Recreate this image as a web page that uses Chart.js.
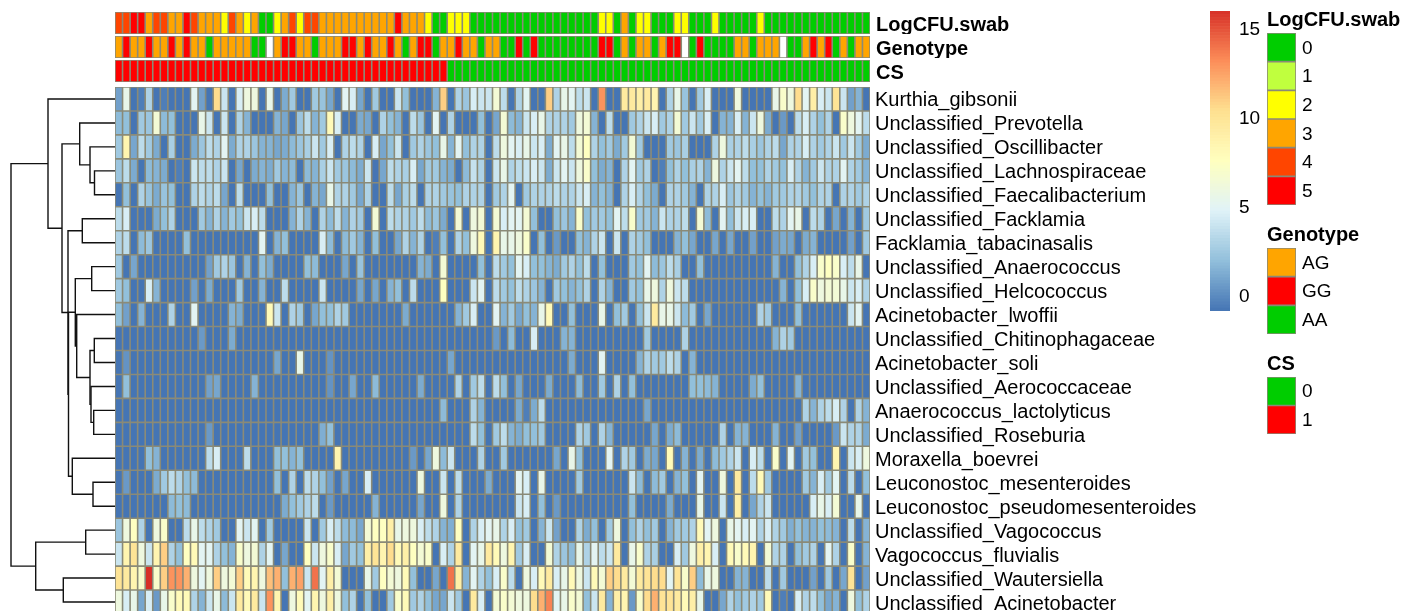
<!DOCTYPE html>
<html>
<head>
<meta charset="utf-8">
<title>Heatmap</title>
<script src="https://cdn.jsdelivr.net/npm/chart.js@4"></script>
<style>
    html, body { margin: 0; padding: 0; width: 1418px; height: 611px; overflow: hidden; background: #fff; }
    canvas { position: absolute; }
</style>
</head>
<body>
<canvas id="dendrogram" width="115" height="527" style="left:0;top:87px"></canvas>
<canvas id="stripLog" width="1095" height="22" style="left:115px;top:12px"></canvas>
<canvas id="stripGenotype" width="1095" height="22" style="left:115px;top:36px"></canvas>
<canvas id="stripCS" width="1095" height="22" style="left:115px;top:60px"></canvas>
<canvas id="heatmap" width="1095" height="527" style="left:115px;top:87px"></canvas>
<canvas id="colorBar" width="60" height="300" style="left:1210px;top:11px"></canvas>
<canvas id="legendLog" width="151" height="199" style="left:1267px;top:6px"></canvas>
<canvas id="legendGenotype" width="151" height="113" style="left:1267px;top:221px"></canvas>
<canvas id="legendCS" width="151" height="84" style="left:1267px;top:350px"></canvas>
<script>
const rowLabels = ['Kurthia_gibsonii', 'Unclassified_Prevotella', 'Unclassified_Oscillibacter',
    'Unclassified_Lachnospiraceae', 'Unclassified_Faecalibacterium', 'Unclassified_Facklamia',
    'Facklamia_tabacinasalis', 'Unclassified_Anaerococcus', 'Unclassified_Helcococcus',
    'Acinetobacter_lwoffii', 'Unclassified_Chitinophagaceae', 'Acinetobacter_soli',
    'Unclassified_Aerococcaceae', 'Anaerococcus_lactolyticus', 'Unclassified_Roseburia',
    'Moraxella_boevrei', 'Leuconostoc_mesenteroides', 'Leuconostoc_pseudomesenteroides',
    'Unclassified_Vagococcus', 'Vagococcus_fluvialis', 'Unclassified_Wautersiella',
    'Unclassified_Acinetobacter'];

// Annotation strips, one value per sample
const logCfuSwab = [4,4,5,5,3,4,4,3,3,5, 4,3,3,3,2,4,3,2,3,0, 0,2,3,4,2,4,4,3,3,3,
    3,3,3,3,3,3,3,5,3,3, 3,2,0,0,2,2,2,0,0,0, 0,0,0,0,0,0,0,0,0,0,
    0,0,0,0,2,2,0,3,0,2, 2,0,0,0,2,2,0,0,0,2, 0,0,0,0,0,2,0,0,0,0,
    0,0,0,0,0,0,0,0,0,0];
const genotype = ['AG','GG','AG','AG','GG','AG','AG','GG','AG','GG',
    'AG','AG','AA','AG','AG','AG','AG','AG','AA','AA',
    '','AG','GG','GG','AG','AG','AA','AG','AG','AG',
    'GG','GG','AG','GG','AG','AG','GG','AG','AA','AG',
    'GG','GG','AA','AG','AG','GG','AG','AG','AA','AG',
    'AG','AA','AA','GG','AA','GG','AA','AA','AA','AA',
    'AA','AA','AA','AA','GG','GG','AA','AG','AA','AG',
    'AG','AA','AG','GG','GG','','AA','GG','AA','AA',
    'AA','AA','AG','AG','AA','AG','AG','AG','','AA',
    'AA','AG','GG','AG','GG','AA','AG','AA','AG','AG'];
const cs = [1,1,1,1,1,1,1,1,1,1, 1,1,1,1,1,1,1,1,1,1, 1,1,1,1,1,1,1,1,1,1,
    1,1,1,1,1,1,1,1,1,1, 1,1,1,1,0,0,0,0,0,0, 0,0,0,0,0,0,0,0,0,0,
    0,0,0,0,0,0,0,0,0,0, 0,0,0,0,0,0,0,0,0,0, 0,0,0,0,0,0,0,0,0,0,
    0,0,0,0,0,0,0,0,0,0];

// Heatmap rows, top to bottom.
const kurthiaGibsonii = [.8,5.5,-1,-.5,3,-1,-.5,-1,-1,-1, 5,.8,-1,10.5,4,-1,4.5,6,6,-1,
    5.5,-1,1.2,2.5,-1,-1,2.5,2.2,1,-1, 5,4.5,1,-1,2.5,-1,-1,4,2,-1,
    -1,-1,1.5,11,-1,3,2.3,4.5,4,4, 6.5,3.5,-1,3,5,-1,-1,11,3,5.5,
    5,3.5,4,-1,13,-1,-1,9.5,9.5,9, 9.5,8.5,-1,3,5.5,2.2,-1,2.5,4.5,-1,
    -1,-1,6,-1,-1,-1,-1,5.5,7,6, 10.5,5,9,4.5,4,10,4,.8,1.5,-1];
const prevotella = [1.8,2,-1,2.5,2.3,6.5,1.8,2,-1,-1, -1,5.5,4,-1,4,-1,3,1.5,-1,-1,
    -1,1.5,1,-1,2.3,3.5,1.5,2.5,8,4.5, -1,-1,1.2,1,-1,3,2,1.5,-1,3.5,
    2.3,-1,5,-1,3,-1,-1,-1,2,-1, 1,6.5,1.8,1.5,4,4.5,5.5,3,3,3,
    2.5,6,6.5,1.5,-1,3.5,-1,-1,2.5,3, 4,4.5,2.5,3,6.5,2.5,4,2.5,4.5,-1,
    1.5,1.5,4.5,1.5,4,6,1.2,-1,.5,-1, 3.5,4.5,3,2,3,-1,7,6,5,3.5];
const oscillibacter = [2.5,8.5,1,3.5,2.5,1.2,-1,2.8,-1,-1, 1.2,2.3,3.5,3,5,1.2,3,3,2.3,1.5,
    1.5,1,1.2,1.8,2.3,2.8,4,2.5,4.5,-1, 3,3.5,3,-1,4.5,1,2,4,-1,2.5,
    3,2.3,2,5.5,1.5,5,2,3,3,-1, 3.5,6,5,4.5,5.5,4,4.5,1.2,5,5.5,
    3.5,6.5,7.5,3,2,2.5,1.2,2.5,6.5,2.5, -1,-1,-1,2.5,2.3,2.8,-1,-1,-1,3,
    6,2.8,3,3.5,2.8,2.3,3,3.5,1,3, 3,4.5,3,2.5,3,4,2.5,4,2.5,1.2];
const lachnospiraceae = [2.3,3.5,1.2,-1,1.8,1.5,1.2,-1,-.5,-1, 4,3.5,3.5,3,4,-1,1,-1,1.2,1.5,
    1.2,2.5,1.5,1.8,-1,1.8,1.5,2.8,4,2.5, 2.3,1.8,1.2,4,-1,1,3.5,3,2.8,4.5,
    1,2.5,2.5,1.5,1.2,-1,1.8,3.8,3,-1, 4,5.5,3,3.5,4,4.5,4,1.2,4,5,
    4,6,7,2,1.2,1.5,-1,3,5,2.5, 3,-1,-.5,2,3,2,2.8,3,1.5,6,
    3,4,5,3.5,2,2,3,2.5,2,4.5, 3,1.5,2.5,4,3,3,5,3,2.5,1.5];
const faecalibacterium = [-1,2,-1,3,2.2,1.2,2.2,2,-1,-1, 3,3.5,3,3.5,1,-1,3.5,-1,-1,-1,
    2,-1,-1,1.5,2.3,-1,1.5,1,5.5,3, 3,2.5,1,3,-1,-1,3.5,1,2.8,3.5,
    -1,3,3,2.5,2.2,2,3,3,3,-1, 2.5,3,5,-1,2.5,3,3,3,3.5,3,
    3,4,4.5,1.5,2,1.5,-1,3,4.5,3, 2,1.2,-1,3,3,2.5,1.5,-1,3,3,
    4.5,2.3,3,2.5,1.5,2,1.5,2.5,2.5,3, 3,2.5,2,3,3,-1,3,3,2.5,3];
const facklamia = [3.5,4.5,-.8,-.8,-.8,1.2,2,3,-1,-1, -1,2.5,1.5,3,1.5,2.5,2,4,4.5,3.5,
    -1,-1,-1,1.5,3,1.5,-1,3,1.8,3.5, 1.5,3,2.5,-1,6.5,-1,3.5,3,3,2.5,
    3.5,1.8,2.3,1.2,-1,6.5,-1,6,6.5,-1, 6.5,4.5,5,5,6.5,2,-1,-1,2,2.3,
    1.5,7,2,2.5,2.5,2,5,3.5,7,2.5, 2.5,1.5,4,3,3,3.5,-1,6.5,1.8,-1,
    5,2,4,4.5,4.5,-1,-1,3.5,3,5, 5.5,-1,3.5,3,-1,1,-1,1.5,-1,2.5];
const facklamiaTabacinasalis = [3,3.5,-1,1.8,2.3,-1,-1,-1,-1,2, -1,-1,-1,-1,-1,-1,-1,-1,-1,5,
    -1,1.5,2,-1,-1,-1,-1,4.5,1.8,-1, 1.8,2.5,1.5,-1,2,-1,-1,1,3,1.5,
    3,-1,-.5,2,-1,3,2,6,8,-1, 8.5,5.5,5.5,6,7,-1,2,-1,.5,-1,
    -1,2,1.5,3,4,-1,4,-1,3,2.5, 2,-1,-1,-1,1.5,2,1,-1,-1,1,
    -1,1,-1,-1,.8,-1,-1,.8,1.2,1, -1,1.2,1.5,-1,-1,-1,-1,.8,-1,2.5];
const anaerococcus = [2.5,-1,1,-1,-1,-1,-1,-1,-1,-1, -1,-1,.8,2.5,3,2.3,-1,1.5,-1,2,
    1.2,-1,-1,-1,-1,2,1.8,-1,-1,-1, 1,-1,2.2,-1,-1,-1,-1,-1,-1,-1,
    1.5,1.2,-1,6.5,-1,-1,-1,-1,2,-1, 3.5,2.5,2,5,4.5,2,2,1.5,1.2,2.5,
    3,2,3.5,-1,2,-1,-1,-1,2.5,2, 5,1.8,2.3,3.5,2.8,-1,-1,2,-1,-1,
    -1,-1,-1,-1,-1,-1,-1,1.5,-1,-1, 2,3,4.5,7,7.5,7,4.5,3.5,5.5,-1];
const helcococcus = [2.5,2,-1,-1,4.5,1.5,-1,-1,-1,-1, .8,-1,1.2,-1,-1,-1,2.5,-1,-1,1.5,
    -1,-1,3.5,-1,-1,-1,-1,4,-1,-1, -1,-1,1,-1,1,-1,1.5,2,-1,3.5,
    -1,-1,-1,7.5,-1,-1,-1,4,5,-1, 3.5,2.5,2,3.5,3,2.3,1.5,-1,2.5,2,
    1.5,2,3,-1,3,1.5,-1,-1,2.5,2, 5.5,6,3,6,4,3.5,-1,-1,-1,-1,
    -1,-1,-1,-1,-1,-1,-1,-1,1.5,-1, 2,4.5,7,6,6.5,6.5,5.5,4,4.5,3];
const acinetobacterLwoffii = [2,.8,-1,1.5,-1,-1,-1,3,-1,-1, 5,-1,-1,-1,-1,1.5,1.2,-1,-1,-1,
    8,4,-1,3,2.5,-1,1,2,2,3, 2.5,-1,-1,-1,-1,-1,-1,-1,1.2,-1,
    -1,-1,-1,-1,-1,1.5,2.5,4.5,-1,-1, 5,1.5,2.5,1,2,1.5,5.5,8,-1,-1,
    2,-1,-1,-1,5.5,-1,2,2.5,-1,2, 4,9.5,5.5,5.5,4,1.8,2.5,-1,1,-1,
    -1,-1,-1,-1,-1,3,2.5,-1,-1,-1, 2,-1,-1,-1,-1,-1,-1,4,5,-1];
const chitinophagaceae = [-1,-1,-1,-1,-1,-1,-1,-1,-1,-1, -1,.5,-1,-1,-1,1.2,-1,-1,-1,-1,
    -1,-1,-1,-1,-1,-1,-1,-1,-1,-1, -1,-1,-1,-1,-1,-1,-1,-1,-1,-1,
    -1,-1,-1,-1,-1,-1,-1,-1,-1,-1, .5,-1,1.8,-1,-1,4.5,-1,-1,-1,1.5,
    1.5,-1,-1,-1,-1,-1,-1,-1,-1,-1, 2.5,-1,-1,-1,-1,3,-1,-1,-1,-1,
    -1,-1,-1,-1,-1,-1,-1,1.5,3,2.5, -1,-1,-1,-1,-1,-1,-1,-1,-1,-1];
const acinetobacterSoli = [-1,.3,-1,-1,-1,-1,-1,-1,-1,-1, -1,-1,-1,-1,-1,-1,-1,-1,-1,-1,
    -1,1,-1,-1,5.5,-1,-1,-1,.3,-1, -1,-1,-1,-1,-1,-1,-1,-1,-1,-1,
    -1,-1,-1,-1,1,-1,-1,-1,-1,-1, -1,-1,-1,-1,-1,-1,-1,-1,-1,-1,
    1.2,-1,-1,-1,5,-1,-1,-1,-1,1.5, 3,2.5,2.5,3.5,3,-1,1.5,-1,-1,-1,
    -1,-1,-1,-1,-1,-1,-1,-1,-1,-1, -1,-1,-1,-1,-1,-1,-1,-1,-1,-1];
const aerococcaceae = [-1,2,-1,-1,-1,-1,-1,-1,-1,-1, -1,-1,.8,1,-1,-1,-1,-1,1.5,-1,
    -1,-1,-1,-1,-1,-1,-1,-1,.3,-1, -1,1,-1,-1,1.8,-1,-1,-1,-1,-1,
    1.2,-1,-1,-1,-1,3,-1,2.5,3.5,-1, 3.5,2,-1,1,-1,-1,-1,1.2,-1,-1,
    -1,1.8,-1,-1,2.5,-1,3,-1,2,-1, -1,-1,-1,-1,-1,-1,2,2,1.8,1.5,
    -1,-1,-1,-1,1.2,2,-1,-1,-1,-1, 1.5,-1,-1,-1,-1,-1,-1,-1,-1,-1];
const anaerococcusLactolyticus = [-1,-1,-1,-1,-1,-1,-1,-1,-1,-1, -1,-1,-1,-1,-1,-1,-1,-1,-1,-1,
    -1,-1,-1,-1,-1,-1,-1,-1,-1,-1, -1,-1,-1,-1,-1,-1,-1,-1,-1,-1,
    -1,-1,-1,1.8,-1,-1,-1,3,1.5,-1, -1,-1,-1,1.2,-.5,1.2,3.5,-1,-1,-1,
    -1,-1,-1,-1,-1,-1,-1,-1,-1,-1, 1,-1,-1,-1,-1,-1,-1,-1,-1,-1,
    -1,-1,-1,-1,-1,-1,-1,-1,-1,-1, -1,3,1.5,3,3.5,4.5,3,-1,3,1.5];
const roseburia = [-1,-1,-1,-1,-1,-1,-1,-1,-1,-1, -1,-1,.5,-1,-1,-1,-1,-1,-1,-1,
    -1,-1,-1,-1,-1,-1,-1,1.3,2,-1, -1,-1,-1,-1,-1,-1,-1,-1,-1,-1,
    -1,-1,-1,-1,-1,-1,-1,3.5,2,-1, 2.5,3.5,1.5,1.2,2,2,2.5,-1,-1,-1,
    -1,3,2.5,-1,3,1.5,-1,-1,-1,-1, -1,1,-1,1.2,1.8,-1,-1,-1,-1,-1,
    3,-1,1.5,1.5,-1,-1,-1,1.5,-1,-1, .8,-1,-1,-1,-1,.5,4,3,3,1.2];
const moraxellaBoevrei = [-1,-1,-1,-1,2,1.5,-1,-1,-1,-1, -1,-1,3.5,4.5,-1,-1,-1,3.5,-1,-1,
    -1,2,2,1.5,2,-1,-1,-1,-1,8.5, -1,-1,-1,-1,-1,-1,-1,-1,-1,.5,
    -1,1,6,1.8,4,-1,-1,-1,3,-1, -1,2.5,-1,-1,-1,-1,-1,-1,1,-1,
    5.5,2,-1,-1,-1,5,-1,3,2.5,-1, 1.2,1,-1,8,-1,1.5,-1,1.2,-1,1.8,
    2.5,3,4,-1,4.5,3.5,-1,7,-1,5, -1,2.5,2,-1,-1,8.5,-1,4,4.5,6];
const leuconostocMesenteroides = [-1,.5,-1,-1,-1,1.2,2.5,3.5,3,2, 1.8,-1,-1,-1,-1,-1,-1,-1,-1,-1,
    -1,2,-1,3,-1,3.5,3,2,.8,-1, 1,-1,-1,4.5,-1,-1,-1,-1,-1,-1,
    6,-1,-1,4,-1,3.5,-1,-1,-1,1.2, -1,-1,-1,5,4.5,-1,5.5,-1,-1,-1,
    -1,2.5,-1,-1,-1,-1,-1,-1,4,1.8, -1,1.8,2.5,-1,1.5,2,-1,5,-1,-1,
    6,-1,9.5,-1,3.5,8,2.5,-1,-1,-1, -1,2.5,1.5,4.5,2.5,5,-1,3.5,-1,2];
const leuconostocPseudomesenteroides = [-1,-1,-1,-1,-1,-1,-1,1.8,2,1.8, -1,-1,-1,-1,-1,-1,-1,-1,-1,-1,
    -1,-1,1.2,2,2.5,3,3.5,-1,.5,-1, -1,-1,-1,-1,1.5,-1,-1,-1,-1,-1,
    1,-1,-1,6,-1,3,-1,-1,-1,-1, -1,-1,-1,4,4.5,-1,2,-1,.5,-1,
    -1,-1,-1,-1,-1,-1,-1,-1,2,-1, -1,-1,-1,1.2,-1,-1,-1,5.5,-1,-1,
    4,-1,9,-1,1,3,4,-1,-1,-1, -1,-1,4.5,5.5,4.5,6.5,-1,-1,5.5,-1];
const vagococcus = [2.3,6,7.5,3,-1,6,7,-1,-1,3.5, 5.5,3.5,3,2.5,-1,-1,5,4,5,-1,
    2.5,-1,-1,-1,-1,4,-1,2.5,4.5,3.5, 1.8,1.8,1,6.5,7.5,7.5,9,5.5,6,6,
    4.5,3.5,3,1.5,1.3,7.5,-1,3,4.5,5, 5.5,3,4.5,2,2.5,-1,1.5,4,.8,-1,
    -1,3,1.2,2,-1,2.5,6,-1,2,3, 2,2.5,-1,1.5,2.5,2.5,3,8,5,6,
    -1,5.5,5,4.5,5,3,4.5,3,2.5,1.3, 2,1.5,1.5,2,1.8,1.5,-1,3.5,-1,1.5];
const vagococcusFluvialis = [4,8.5,10,6,4,8.5,11,3,2,7.5, 8,5,5,3,2,1.5,7,6,6.5,3,
    5,-1,1,-1,-1,7.5,4,6,7,4.5, 1,2.5,2,9,10,8.5,10.5,8,9,7.5,
    6.5,7,-1,4.5,3,9.5,-1,5,5.5,9.5, 8,6,8.5,2.5,4.5,-1,-1,6.5,3,2.3,
    1.8,5.5,3,5,3.5,4,9.5,-1,5.5,7, 3,2.8,-1,-1,4.5,2.5,6,9,8.5,4.5,
    -1,8,7,8,8.5,-1,6.5,3,3,-1, 2,2.5,3,-1,5,3,-1,7,-1,1.5];
const wautersiella = [10,9.5,8.5,7,16,7,11,13,13,12, 6,5,6,11,6,6.5,11,8,8.5,6,
    11.5,12,2,12,12.5,4,14,5,9,6.5, -1,-1,-1,5.5,2.5,7.5,6.5,6,8,2,
    -1,-1,1,-1,14,9,1.5,5,3,2, 4.5,7,3.5,-1,6,4.5,8,9.5,4.5,5.5,
    8,6,4,8,6.5,11,10.5,9.5,6.5,9.5, 10,10.5,10.5,5,10,7,11,1.8,5.5,6,
    -1,-1,1.5,1.5,-1,-1,3.5,-1,2.5,-1, -1,-1,.8,-1,2.5,-1,1,10,-1,.8];
const acinetobacter = [6,4.5,5.5,1,4.5,.5,5.5,7,8,8, 3,1.5,4,5.5,1.8,4,9.5,8,9.5,4,
    13,8.5,-1,6,8,5,8.5,6,9,6, 2,3,-1,2,-1,-1,2.5,7,8,2.5,
    3,2,1,1,4,2.5,-1,9.5,4.5,-1, 6.5,7,6.5,6,6,10.5,12,13.5,5,5.5,
    7,6.5,2,4,9.5,1.5,9,8.5,.5,7, 10.5,12,10,10,9.5,8,9,5.5,-1,-1,
    1,3,2,2.5,3,2.5,8,-1,-.5,-1, 4.5,3,3.5,2,1,1.5,-1,6,2,3];

const heatRows = [kurthiaGibsonii, prevotella, oscillibacter, lachnospiraceae, faecalibacterium,
    facklamia, facklamiaTabacinasalis, anaerococcus, helcococcus, acinetobacterLwoffii,
    chitinophagaceae, acinetobacterSoli, aerococcaceae, anaerococcusLactolyticus, roseburia,
    moraxellaBoevrei, leuconostocMesenteroides, leuconostocPseudomesenteroides, vagococcus,
    vagococcusFluvialis, wautersiella, acinetobacter];

// Row clustering: [child, child, height]. 'r3' is row 3, a number is an earlier merge
const merges = [
    ['r3', 'r4', 20.5], ['r2', 0, 25], ['r1', 1, 35.3], ['r5', 'r6', 32.7], ['r7', 'r8', 23.3],
    ['r10', 'r11', 20.7], ['r13', 'r14', 21.3], ['r12', 6, 24], [5, 7, 25], ['r9', 8, 38.3],
    [4, 9, 39.7], ['r16', 'r17', 22], ['r15', 11, 42.7], [10, 12, 46.5], [3, 13, 47],
    [2, 14, 53], ['r0', 15, 67], ['r18', 'r19', 29.3], ['r20', 'r21', 51.7], [17, 18, 79.3],
    [16, 19, 104]
];

// Colour scale
const scaleMin = -0.85;
const scaleMax = 16;
const scaleTicks = [0, 5, 10, 15];
const scaleColors = ['#4575B4', '#91BFDB', '#E0F3F8', '#FFFFBF', '#FEE090', '#FC8D59', '#D73027'];

// Annotation colours
const logLevels = ['0', '1', '2', '3', '4', '5'];
const logColors = ['#00CD00', '#C0FF3E', '#FFFF00', '#FFA500', '#FF4500', '#FF0000'];
const genotypeLevels = ['AG', 'GG', 'AA'];
const genotypeColors = ['#FFA500', '#FF0000', '#00CD00'];
const csLevels = ['0', '1'];
const csColors = ['#00CD00', '#FF0000'];

const cellBorder = '#8b8b78';
const fontName = '"Liberation Sans", Arial, sans-serif';
const sampleIds = heatRows[0].map((_, i) => 'S' + (i + 1));

Chart.defaults.animation = false;
Chart.defaults.responsive = false;
Chart.defaults.plugins.legend.display = false;
Chart.defaults.plugins.tooltip.enabled = false;
Chart.defaults.color = '#000';

function heatColor(value) {
    const pos = Math.max(0, Math.min(1, (value - scaleMin) / (scaleMax - scaleMin))) * (scaleColors.length - 1);
    const i = Math.min(Math.floor(pos), scaleColors.length - 2);
    const a = parseInt(scaleColors[i].slice(1), 16);
    const b = parseInt(scaleColors[i + 1].slice(1), 16);
    const mix = shift => Math.round(((a >> shift) & 255) * (1 - (pos - i)) + ((b >> shift) & 255) * (pos - i));
    return `rgb(${mix(16)},${mix(8)},${mix(0)})`;
}

// Border colour behind the tiles, otherwise white shows through the seams between bars
const cellBackdrop = {
    id: 'cellBackdrop',
    beforeDatasetsDraw(chart) {
        const { ctx, chartArea } = chart;
        ctx.save();
        ctx.fillStyle = cellBorder;
        ctx.fillRect(chartArea.left, chartArea.top, chartArea.right - chartArea.left, chartArea.bottom - chartArea.top);
        ctx.restore();
    }
};

// All tile panels are floating bars sharing one category position per column
function tileChart(id, settings) {
    return new Chart(document.getElementById(id), {
        type: 'bar',
        plugins: settings.borderWidth ? [cellBackdrop] : [],
        data: {
            labels: settings.columns,
            datasets: settings.datasets.map(d => ({
                data: d.data,
                backgroundColor: d.colors,
                borderColor: settings.border,
                borderWidth: settings.borderWidth,
                borderSkipped: false,
                inflateAmount: settings.inflate || 0,
                categoryPercentage: 1,
                barPercentage: 1
            }))
        },
        options: {
            layout: { padding: 0 },
            plugins: {
                title: settings.title ? {
                    display: true,
                    text: settings.title,
                    align: 'start',
                    color: '#000',
                    font: { family: fontName, size: 20, weight: 'bold', lineHeight: 1.2 },
                    padding: { top: 2, bottom: 1 }
                } : { display: false }
            },
            scales: {
                x: { display: false, stacked: true },
                y: {
                    position: 'right',
                    min: settings.min,
                    max: settings.max,
                    reverse: settings.reverse,
                    grid: { display: false, drawTicks: false },
                    border: { display: false },
                    // keep the plot area flush with the canvas, labels stay inside it
                    afterFit: scale => {
                        scale.width = settings.axisWidth;
                        scale.paddingTop = 0;
                        scale.paddingBottom = 0;
                    },
                    afterBuildTicks: scale => {
                        scale.ticks = settings.tickValues.map(value => ({ value }));
                    },
                    ticks: {
                        autoSkip: false,
                        padding: settings.tickPadding,
                        labelOffset: settings.labelOffset,
                        font: { family: fontName, size: settings.tickSize || 19, weight: settings.tickWeight || 'normal' },
                        callback: (value, i) => settings.tickText[i]
                    }
                }
            }
        }
    });
}

function stripChart(id, name, values, colorOf) {
    tileChart(id, {
        columns: sampleIds,
        datasets: [{ data: values.map(() => [0, 1]), colors: values.map(colorOf) }],
        border: cellBorder,
        borderWidth: 0.8,
        min: 0,
        max: 1,
        reverse: true,
        axisWidth: 340,
        tickPadding: 6,
        labelOffset: 2,
        tickSize: 20,
        tickWeight: 'bold',
        tickValues: [0.5],
        tickText: [name]
    });
}

function legendChart(id, title, levels, colors) {
    tileChart(id, {
        title,
        columns: [title],
        datasets: levels.map((_, i) => ({ data: [[i, i + 1]], colors: [colors[i]] })),
        border: cellBorder,
        borderWidth: 0.8,
        min: 0,
        max: levels.length,
        reverse: true,
        axisWidth: 122,
        tickPadding: 6,
        labelOffset: 1,
        tickValues: levels.map((_, i) => i + 0.5),
        tickText: levels
    });
}

stripChart('stripLog', 'LogCFU.swab', logCfuSwab, v => logColors[v]);
stripChart('stripGenotype', 'Genotype', genotype, v => {
    const i = genotypeLevels.indexOf(v);
    return i < 0 ? '#FFFFFF' : genotypeColors[i];
});
stripChart('stripCS', 'CS', cs, v => csColors[v]);

tileChart('heatmap', {
    columns: sampleIds,
    datasets: heatRows.map((row, r) => ({
        data: row.map(() => [r, r + 1]),
        colors: row.map(heatColor)
    })),
    border: cellBorder,
    borderWidth: 0.8,
    min: 0,
    max: heatRows.length,
    reverse: true,
    axisWidth: 340,
    tickPadding: 5,
    labelOffset: 2,
    tickSize: 20,
    tickValues: rowLabels.map((_, i) => i + 0.5),
    tickText: rowLabels
});

// Colour bar: one thin tile per step of the scale
const barSteps = [];
for (let v = scaleMin; v < scaleMax; v += 0.17) {
    barSteps.push(v);
}
tileChart('colorBar', {
    columns: ['scale'],
    datasets: barSteps.map(v => ({ data: [[v, v + 0.17]], colors: [heatColor(v + 0.085)] })),
    border: 'transparent',
    borderWidth: 0,
    inflate: 0.33,
    min: scaleMin,
    max: scaleMax,
    reverse: false,
    axisWidth: 40,
    tickPadding: 9,
    labelOffset: 1,
    tickValues: scaleTicks,
    tickText: scaleTicks.map(String)
});

legendChart('legendLog', 'LogCFU.swab', logLevels, logColors);
legendChart('legendGenotype', 'Genotype', genotypeLevels, genotypeColors);
legendChart('legendCS', 'CS', csLevels, csColors);

// Dendrogram: each merge is a bracket between its two children
const nodes = [];
function childNode(child) {
    if (typeof child === 'string') {
        return { height: 0, row: Number(child.slice(1)) + 0.5 };
    }
    return nodes[child];
}
const dendrogramSets = merges.map(([a, b, height]) => {
    const left = childNode(a);
    const right = childNode(b);
    nodes.push({ height, row: (left.row + right.row) / 2 });
    return {
        data: [
            { x: left.height, y: left.row },
            { x: height, y: left.row },
            { x: height, y: right.row },
            { x: right.height, y: right.row }
        ],
        showLine: true,
        borderColor: '#111',
        borderWidth: 1.4,
        pointRadius: 0,
        clip: false
    };
});
new Chart(document.getElementById('dendrogram'), {
    type: 'scatter',
    data: { datasets: dendrogramSets },
    options: {
        layout: { padding: 0 },
        scales: {
            x: { display: false, min: 0, max: 115, reverse: true },
            y: { display: false, min: 0, max: heatRows.length, reverse: true }
        }
    }
});
</script>
</body>
</html>
